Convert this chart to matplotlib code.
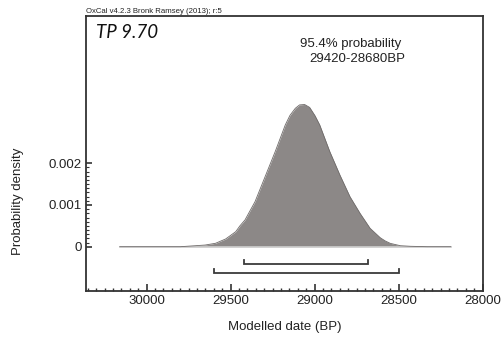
import numpy as np
import matplotlib
matplotlib.use("Agg")
import matplotlib.pyplot as plt
import matplotlib.ticker as mticker

# -----------------------------
# Data
# -----------------------------
years = [30160, 29800, 29710, 29652, 29590, 29530, 29470, 29445, 29415,
         29355, 29295, 29235, 29175, 29147, 29115, 29090, 29060, 29030,
         28998, 28970, 28910, 28850, 28790, 28730, 28700, 28670, 28610,
         28581, 28550, 28490, 28430, 28330, 28190]
density = [0.0, 0.0, 0.000024, 0.00004, 0.000082, 0.000185, 0.00036,
           0.0005, 0.00064, 0.00108, 0.00168, 0.00228, 0.00292, 0.00315,
           0.00332, 0.0034, 0.00341, 0.00334, 0.00314, 0.00292, 0.00228,
           0.00172, 0.0012, 0.0008, 0.00062, 0.00044, 0.000216, 0.00014,
           0.00008, 0.000024, 0.00001, 0.0, 0.0]

range_954 = (29420, 28680)
range_997 = (29600, 28500)

title_label = "TP 9.70"
header = "OxCal v4.2.3 Bronk Ramsey (2013); r:5"
prob_text = "95.4% probability"
range_text = "29420-28680BP"

FILL = "#8c8887"
AXC = "#333333"
FONT = ["Liberation Sans", "DejaVu Sans"]

plt.rcParams["font.family"] = FONT

# -----------------------------
# Plot
# -----------------------------
fig = plt.figure(figsize=(5.04, 3.41), dpi=100)
ax = fig.add_axes([86 / 504, 1 - 290.7 / 341, (482.7 - 86) / 504, (290.7 - 16) / 341])

ax.fill_between(years, density, 0, color=FILL, lw=0)
ax.plot(years, density, color="#6e6a69", lw=0.6)
ax.plot([years[0], years[-1]], [0, 0], color="#cfcfcf", lw=1.2, zorder=1)

# range brackets
for (a, b), yb in [(range_954, -0.00041), (range_997, -0.00063)]:
    h = 0.0001
    ax.plot([a, a, b, b], [yb + h, yb, yb, yb + h], color="#3a3a3a", lw=1.3,
            solid_joinstyle="miter")

ax.set_xlim(30361, 28000)
ax.set_ylim(-0.001055, 0.005532)

ax.set_xticks([30000, 29500, 29000, 28500, 28000])
ax.xaxis.set_minor_locator(mticker.MultipleLocator(50))
ax.set_yticks([0, 0.001, 0.002])
ax.set_yticklabels(["0", "0.001", "0.002"])
ax.yaxis.set_minor_locator(mticker.FixedLocator(np.arange(0, 0.00201, 0.0001)))

ax.tick_params(axis="both", which="both", direction="in", color=AXC,
               labelsize=9.5, labelcolor="#222222")
ax.tick_params(axis="x", which="major", length=5, width=1.2, pad=3)
ax.tick_params(axis="x", which="minor", length=2.5, width=1.0)
ax.tick_params(axis="y", which="major", length=4, width=1.2, pad=3)
ax.tick_params(axis="y", which="minor", length=2, width=0.8)
ax.tick_params(top=False, right=False, which="both")

for sp in ax.spines.values():
    sp.set_color(AXC)
    sp.set_linewidth(1.3)

ax.set_xlabel("Modelled date (BP)", fontsize=9.5, color="#222222", labelpad=10)
fig.text(18 / 504, 1 - 201 / 341, "Probability density", rotation=90,
         ha="center", va="center", fontsize=9.5, color="#222222")

fig.text(86 / 504, 1 - 11.5 / 341, header, ha="left", va="center",
         fontsize=5.6, color="#222222")
fig.text(96 / 504, 1 - 32 / 341, title_label, ha="left", va="center",
         fontsize=13.5, style="italic", family=["Lato", "DejaVu Sans"],
         color="#111111")
fig.text(300 / 504, 1 - 43.5 / 341, prob_text, ha="left", va="center",
         fontsize=9.5, color="#222222")
fig.text(309 / 504, 1 - 59.5 / 341, range_text, ha="left", va="center",
         fontsize=9.5, color="#222222")

fig.savefig("out.png", dpi=100, facecolor="white")
plt.close(fig)
